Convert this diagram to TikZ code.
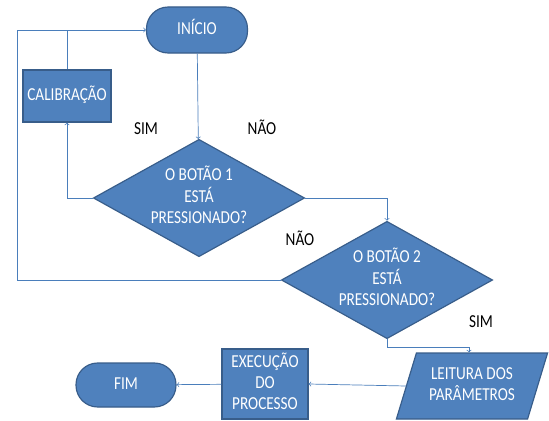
\documentclass[tikz,border=0pt]{standalone}
\usepackage{fontspec}
\setmainfont{Carlito}
\usepackage{tikz}
\usetikzlibrary{arrows, positioning, shapes.geometric}
\definecolor{azulCaixa}{HTML}{4F81BD}
\definecolor{azulBorda}{HTML}{385D8A}
\definecolor{azulLinha}{HTML}{4A7EBB}
% texto alto e estreito, como no original
\newcommand{\alto}[1]{\scalebox{1}[1.2]{\begin{tabular}{@{}c@{}}#1\end{tabular}}}

\begin{document}
\begin{tikzpicture}[x=0.03cm, y=-0.03cm,
    bloco/.style={rectangle, draw=azulBorda, fill=azulCaixa, line width=1pt, text=white, align=center, inner sep=0pt, font=\fontsize{13}{15}\selectfont},
    terminal/.style={bloco, rounded corners=0.65cm},
    decisao/.style={bloco, diamond, aspect=1.8},
    entrada/.style={bloco, trapezium, trapezium left angle=70, trapezium right angle=110, trapezium stretches=true},
    conector/.style={draw=azulLinha, line width=0.6pt},
    rotulo/.style={font=\fontsize{13}{15}\selectfont}]
    \useasboundingbox[fill=white] (0,0) rectangle (549,421);

    \node (inicio) [terminal, minimum width=3.03cm, minimum height=1.38cm] at (197,30) {\alto{INÍCIO}};
    \node (calib) [bloco, minimum width=2.64cm, minimum height=1.56cm] at (67,96) {\alto{CALIBRAÇÃO}};
    \node (botao1) [decisao, minimum width=6.21cm, minimum height=3.45cm] at (199,198) {\alto{O BOTÃO 1\\ESTÁ\\PRESSIONADO?}};
    \node (botao2) [decisao, minimum width=6.3cm, minimum height=3.42cm] at (387,280) {\alto{O BOTÃO 2\\ESTÁ\\PRESSIONADO?}};
    \node (leitura) [entrada, minimum width=4.56cm, minimum height=1.98cm] at (472,386) {\alto{LEITURA DOS\\PARÂMETROS}};
    \node (exec) [bloco, minimum width=2.58cm, minimum height=2.1cm] at (265,384) {\alto{EXECUÇÃO\\DO\\PROCESSO}};
    \node (fim) [terminal, minimum width=3cm, minimum height=1.32cm] at (126,385) {\alto{FIM}};

    \node (sim1) [rotulo] at (146,130) {\alto{SIM}};
    \node (nao1) [rotulo] at (262,130) {\alto{NÃO}};
    \node (nao2) [rotulo] at (300,241) {\alto{NÃO}};
    \node (sim2) [rotulo] at (481,323) {\alto{SIM}};

    \coordinate (volta) at (17,280);
    \coordinate (desvio) at (469,347);

    \draw [conector, ->] (inicio) -- (botao1);
    \draw [conector, ->] (botao1.west) -| (calib.south);
    \draw [conector] (calib.north) -- (calib.north |- inicio.west);
    \draw [conector, ->] (botao2.west) -- (volta) |- (inicio.west);
    \draw [conector, ->] (botao1.east) -| (botao2.north);
    \draw [conector, ->] (botao2.south) |- (desvio) -- (desvio |- leitura.north);
    \draw [conector, ->] (leitura.left side) -- (exec.east);
    \draw [conector, ->] (exec) -- (fim);
\end{tikzpicture}
\end{document}
